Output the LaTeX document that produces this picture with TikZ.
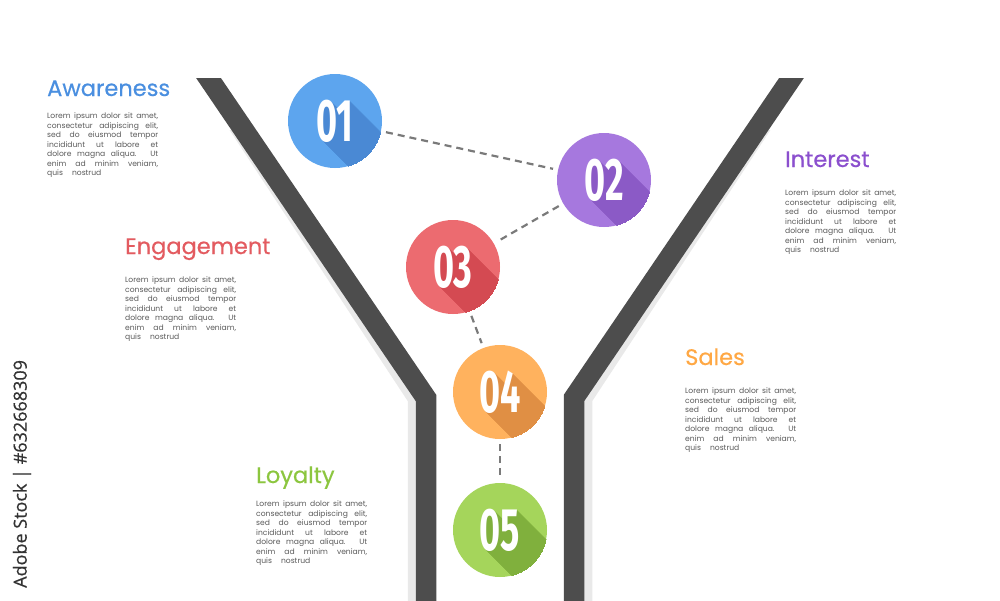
\documentclass[tikz,border=0pt]{standalone}
\usepackage{fontspec}
\setmainfont{Poppins}
\newfontfamily\titlefont[FakeBold=0.4]{Poppins}
\newfontfamily\numfont[FakeStretch=0.6]{Fira Sans}
\newfontfamily\wmfont[FakeBold=0.6]{Open Sans}
\definecolor{wallc}{HTML}{4D4D4D}
\definecolor{wallsh}{HTML}{E9E9E9}
\definecolor{dashc}{HTML}{7A7A7A}
\definecolor{bodyc}{HTML}{5A5A5A}
\definecolor{wmc}{HTML}{333333}
\definecolor{cA}{HTML}{5DA5EE}\definecolor{dA}{HTML}{4A89D4}
\definecolor{cB}{HTML}{A678DE}\definecolor{dB}{HTML}{8B5AC6}
\definecolor{cC}{HTML}{EC6B70}\definecolor{dC}{HTML}{D44A52}
\definecolor{cD}{HTML}{FFB25E}\definecolor{dD}{HTML}{E08F44}
\definecolor{cE}{HTML}{A5D55B}\definecolor{dE}{HTML}{80B03D}
\definecolor{tA}{HTML}{4A8FE0}
\definecolor{tB}{HTML}{8B4FCE}
\definecolor{tC}{HTML}{E35B60}
\definecolor{tD}{HTML}{FFA844}
\definecolor{tE}{HTML}{8CC63F}
\newcommand\numstyle{\numfont\bfseries\fontsize{60}{60}\selectfont}
\newcommand\jl[1]{\hbox to 111pt{\spaceskip=0.26em plus 1fil minus 0.08em\relax #1}}
\newcommand\loremtext{\vtop{\fontsize{7.6}{9.5}\selectfont\baselineskip=9.5pt\lineskiplimit=-20pt\color{bodyc}%
\jl{Lorem ipsum dolor sit amet,}
\jl{consectetur adipiscing elit,}
\jl{sed do eiusmod tempor}
\jl{incididunt ut labore et}
\jl{dolore magna aliqua. Ut}
\jl{enim ad minim veniam,}
\hbox{quis\hspace{9pt}nostrud}}}
\newcommand\numcircle[6]{%
  \node[circle, fill=#4, minimum size=94pt, inner sep=0pt] (#1) at (#2,#3) {};
  \begin{scope}
    \clip (#2,#3) circle (47pt);
    \foreach \i in {1,...,45} \node[text=#5, font=\numstyle, inner sep=0pt] at ([shift={(\i,\i)}]#2,#3) {#6};
  \end{scope}
  \node[text=white, font=\numstyle, inner sep=0pt] (#1t) at (#2,#3) {#6};
}
\tikzset{
  wall/.style={draw=wallc, line width=20.5pt, line join=miter},
  wallshadow/.style={draw=wallsh, line width=20.5pt, line join=miter},
  title/.style={anchor=base west, inner sep=0pt, font=\titlefont\fontsize{22.5}{27}\selectfont},
  body/.style={anchor=base west, inner sep=0pt},
  link/.style={draw=dashc, line width=2.2pt, dash pattern=on 7pt off 5pt, shorten <=5pt, shorten >=5pt}
}
\begin{document}
\begin{tikzpicture}[x=1pt,y=-1pt]
\useasboundingbox (0,0) rectangle (1000,600);
\fill[white] (0,0) rectangle (1000,600);
% funnel shadows
\begin{scope}
  \clip (0,130) rectangle (1000,600);
  \draw[wallshadow] (178.75,34) -- (418,398) -- (418,620);
  \draw[wallshadow] (821.25,34) -- (582,398) -- (582,620);
\end{scope}
% funnel walls
\begin{scope}
  \clip (0,78) rectangle (1000,600);
  \draw[wall] (186.75,46) -- (426,398) -- (426,620);
  \draw[wall] (813.25,46) -- (574,398) -- (574,620);
\end{scope}
% circles
\numcircle{n1}{335}{121}{cA}{dA}{01}
\numcircle{n2}{604}{180}{cB}{dB}{02}
\numcircle{n3}{453}{267}{cC}{dC}{03}
\numcircle{n4}{500}{392}{cD}{dD}{04}
\numcircle{n5}{500}{530}{cE}{dE}{05}
% dashed links
\draw[link] (n1) -- (n2);
\draw[link] (n2) -- (n3);
\draw[link] (n3) -- (n4);
\draw[link] (n4) -- (n5);
% texts
\node[title, text=tA] (t1) at (47,96) {Awareness};
\node[body] (b1) at (47,113) {\loremtext};
\node[title, text=tB] (t2) at (785,167) {Interest};
\node[body] (b2) at (785,190) {\loremtext};
\node[title, text=tC] (t3) at (125,254) {Engagement};
\node[body] (b3) at (125,277) {\loremtext};
\node[title, text=tD] (t4) at (685,365) {Sales};
\node[body] (b4) at (685,388) {\loremtext};
\node[title, text=tE] (t5) at (256,483) {Loyalty};
\node[body] (b5) at (256,501) {\loremtext};
% watermark
\node[rotate=90, anchor=west, inner sep=0pt, text=wmc, font=\wmfont\fontsize{18}{18}\selectfont] (wm) at (22,588) {Adobe Stock | \#632668309};
\end{tikzpicture}
\end{document}
